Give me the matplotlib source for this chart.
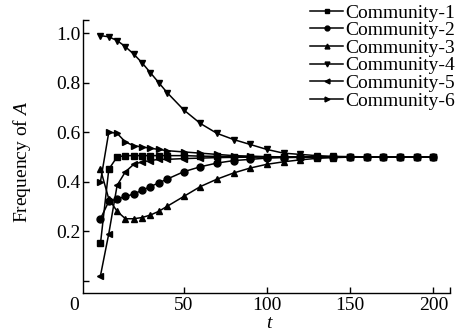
import matplotlib
matplotlib.use("Agg")
import matplotlib.pyplot as plt

t = [0, 5, 10, 15, 20, 25, 30, 35, 40, 50, 60, 70, 80, 90, 100,
     110, 120, 130, 140, 150, 160, 170, 180, 190, 200]

c1 = [0.15, 0.45, 0.50, 0.505, 0.505, 0.505, 0.505, 0.505, 0.505, 0.505, 0.503, 0.502, 0.501, 0.500, 0.500,
      0.500, 0.500, 0.500, 0.500, 0.500, 0.500, 0.500, 0.500, 0.500, 0.500]
c2 = [0.25, 0.32, 0.33, 0.34, 0.35, 0.365, 0.38, 0.395, 0.41, 0.44, 0.46, 0.475, 0.485, 0.49, 0.495,
      0.497, 0.498, 0.499, 0.500, 0.500, 0.500, 0.500, 0.500, 0.500, 0.500]
c3 = [0.45, 0.33, 0.28, 0.25, 0.25, 0.255, 0.265, 0.28, 0.30, 0.34, 0.38, 0.41, 0.435, 0.455, 0.47,
      0.48, 0.488, 0.494, 0.497, 0.499, 0.500, 0.500, 0.500, 0.500, 0.500]
c4 = [0.99, 0.985, 0.97, 0.945, 0.915, 0.88, 0.84, 0.80, 0.76, 0.69, 0.635, 0.595, 0.57, 0.55, 0.53,
      0.515, 0.51, 0.505, 0.502, 0.501, 0.500, 0.500, 0.500, 0.500, 0.500]
c5 = [0.02, 0.19, 0.385, 0.44, 0.47, 0.48, 0.485, 0.49, 0.49, 0.493, 0.495, 0.497, 0.498, 0.499, 0.500,
      0.500, 0.500, 0.500, 0.500, 0.500, 0.500, 0.500, 0.500, 0.500, 0.500]
c6 = [0.40, 0.60, 0.595, 0.56, 0.545, 0.54, 0.535, 0.53, 0.525, 0.52, 0.515, 0.51, 0.505, 0.503, 0.501,
      0.500, 0.500, 0.500, 0.500, 0.500, 0.500, 0.500, 0.500, 0.500, 0.500]

series = [c1, c2, c3, c4, c5, c6]
labels = ["Community-1", "Community-2", "Community-3", "Community-4", "Community-5", "Community-6"]
markers = ["s", "o", "^", "v", "<", ">"]

plt.rcParams['font.family'] = ['Liberation Serif', 'DejaVu Serif']
plt.rcParams['mathtext.fontset'] = 'custom'
plt.rcParams['mathtext.it'] = 'Liberation Serif:italic'
plt.rcParams['mathtext.rm'] = 'Liberation Serif'

fig = plt.figure(figsize=(4.57, 3.34), dpi=100)
ax = fig.add_axes([83/457, (334-293)/334, (450-83)/457, (293-20)/334])

for y, lab, m in zip(series, labels, markers):
    ax.plot(t, y, color='black', linewidth=1.1, marker=m, markersize=5,
            markerfacecolor='black', markeredgecolor='black', label=lab)

ax.set_xlim(-10.5, 210)
ax.set_ylim(-0.05, 1.053)
ax.spines['top'].set_visible(False)
ax.spines['right'].set_visible(False)
for s in ['left', 'bottom']:
    ax.spines[s].set_linewidth(1.0)

ax.set_xticks([50, 100, 150, 200, 210])
ax.set_xticklabels(['50', '100', '150', '200', ''])
ax.set_yticks([0.0, 0.2, 0.4, 0.6, 0.8, 1.0, 1.053])
ax.set_yticklabels(['', '0.2', '0.4', '0.6', '0.8', '1.0', ''])
ax.tick_params(direction='in', length=4, width=1.0, labelsize=14)
ax.tick_params(axis='x', pad=3)
ax.tick_params(axis='y', pad=2)

ax.text(74/457, 1 - 305/334, '0', transform=fig.transFigure, fontsize=14,
        ha='center', va='center')

fig.text(270/457, 1 - 324/334, r'$t$', fontsize=14, ha='center', va='center')
fig.text(22/457, 1 - 162/334, r'Frequency of $A$', fontsize=14, ha='center', va='center',
         rotation=90)

leg = ax.legend(loc='upper right', bbox_to_anchor=(455/457, 1 - 4/334),
                bbox_transform=fig.transFigure, frameon=False, fontsize=14,
                handlelength=1.7, handletextpad=0.1, labelspacing=0.0,
                borderpad=0, borderaxespad=0, markerscale=0.7)

fig.savefig('out.png', dpi=100)
